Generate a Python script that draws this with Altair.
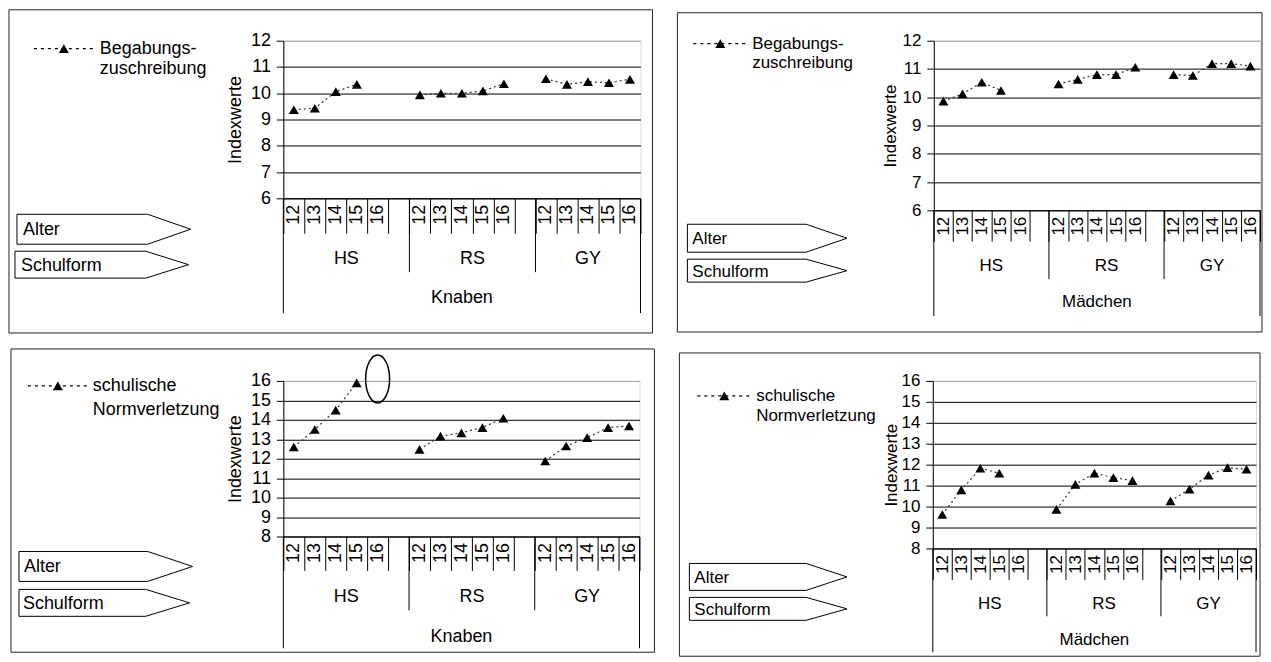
import altair as alt
import pandas as pd

# ---------------- data ----------------
groups = ["HS", "RS", "GY"]
ages = ["12", "13", "14", "15", "16"]

knaben_begabung = {
    "HS": [9.37, 9.43, 10.06, 10.34, None],
    "RS": [9.94, 10.00, 10.00, 10.09, 10.36],
    "GY": [10.55, 10.34, 10.44, 10.40, 10.53],
}
maedchen_begabung = {
    "HS": [9.86, 10.12, 10.53, 10.24, None],
    "RS": [10.47, 10.63, 10.80, 10.80, 11.06],
    "GY": [10.80, 10.77, 11.19, 11.19, 11.10],
}
knaben_norm = {
    "HS": [12.60, 13.50, 14.50, 15.90, None],
    "RS": [12.48, 13.16, 13.33, 13.60, 14.08],
    "GY": [11.88, 12.65, 13.08, 13.60, 13.68],
}
maedchen_norm = {
    "HS": [9.62, 10.80, 11.83, 11.59, None],
    "RS": [9.87, 11.06, 11.60, 11.38, 11.24],
    "GY": [10.27, 10.83, 11.50, 11.86, 11.78],
}

legend_begabung = ["Begabungs-", "zuschreibung"]
legend_norm = ["schulische", "Normverletzung"]
box_labels = ["Alter", "Schulform"]
y_title = "Indexwerte"
ellipse_mark = {"group": "HS", "age": "16", "value": 16.1}

FONT = "Liberation Sans"

# slot keys: 5 ages per school type plus an empty slot between types
KEYS = []
for i, g in enumerate(groups):
    KEYS += [f"{g}|{a}" for a in ages]
    if i < len(groups) - 1:
        KEYS.append(f"{g}|")

DUMMY = pd.DataFrame({"d": [0]})


def box_shape(x0, xr, xt, yt, yb):
    cx = (x0 + xt) / 2
    cy = (yt + yb) / 2
    hw = (xt - x0) / 2

    def u(v):
        return round(v / hw, 4)

    path = (f"M{u(x0 - cx)},{u(yt - cy)}L{u(xr - cx)},{u(yt - cy)}L{u(xt - cx)},0"
            f"L{u(xr - cx)},{u(yb - cy)}L{u(x0 - cx)},{u(yb - cy)}Z")
    return cx, cy, path, (2 * hw) ** 2


def make_panel(values, geo, legend_lines, sex, ydom, FS, ellipse=None):
    bx0, by0, bx1, by1 = geo["border"]
    px0, py0, px1, py1 = geo["plot"]
    W = px1 - px0
    H = py1 - py0

    def rx(x):
        return x - px0

    def ry(y):
        return y - py0

    rows = []
    for g in groups:
        for a, v in zip(ages, values[g]):
            if v is not None:
                rows.append({"key": f"{g}|{a}", "group": g, "value": v})
    df = pd.DataFrame(rows)

    y0, y1 = ydom
    xscale = alt.Scale(type="band", domain=KEYS, paddingInner=0, paddingOuter=0)
    yscale = alt.Scale(domain=[y0, y1], nice=False, zero=False)
    tick_len = geo["tick_end"] - py1
    xaxis = alt.Axis(
        title=None, tickBand="extent", tickSize=tick_len, tickColor="black",
        tickWidth=1, domainColor="black", domainWidth=1, labelAngle=270,
        labelAlign="right", labelBaseline="middle", labelPadding=6 - tick_len,
        labelExpr="split(datum.value, '|')[1]", labelFontSize=FS,
        labelColor="black", labelOverlap=False, grid=False, labelFont=FONT,
    )
    yaxis = alt.Axis(
        title=y_title, values=list(range(y0, y1 + 1)), tickSize=7, labelPadding=6,
        tickColor="black", domainColor="black", labelFontSize=FS, labelColor="black",
        labelFont=FONT, titleFont=FONT, titleFontSize=FS, titleFontWeight="normal",
        titleColor="black", titleAngle=270, titleX=rx(geo["ytitle_x"]), titleY=H / 2,
        titleAlign="center", titleBaseline="middle", grid=True, gridWidth=1,
        gridOpacity=1,
        gridColor={"condition": {"test": f"datum.value === {y1}", "value": "#a0a0a0"},
                   "value": "#000000"},
    )
    X = alt.X("key:N", scale=xscale, axis=xaxis)
    Y = alt.Y("value:Q", scale=yscale, axis=yaxis)

    layers = []
    # panel border
    layers.append(alt.Chart(DUMMY).mark_rect(fillOpacity=0, stroke="#222", strokeWidth=1).encode(
        x=alt.value(rx(bx0)), x2=alt.value(rx(bx1)), y=alt.value(ry(by0)), y2=alt.value(ry(by1))))

    # legend
    l0, l1, lt, ly = geo["legend"]
    layers.append(alt.Chart(DUMMY).mark_rule(color="black", strokeWidth=1.2, strokeDash=[3, 4]).encode(
        x=alt.value(rx(l0)), x2=alt.value(rx(l1)), y=alt.value(ry(ly))))
    layers.append(alt.Chart(DUMMY).mark_point(shape="triangle-up", filled=True, color="black",
                                             size=100, opacity=1).encode(
        x=alt.value(rx(lt)), y=alt.value(ry(ly))))
    tx, ty1, ty2 = geo["legend_text"]
    for txt, yy in zip(legend_lines, [ty1, ty2]):
        layers.append(alt.Chart(DUMMY).mark_text(text=txt, align="left", baseline="middle",
                                                fontSize=FS, font=FONT, color="black").encode(
            x=alt.value(rx(tx)), y=alt.value(ry(yy))))

    # Alter / Schulform arrow boxes
    for lab, (x0, xr, xt, yt, yb, txx) in zip(box_labels, geo["boxes"]):
        cx, cy, path, size = box_shape(x0, xr, xt, yt, yb)
        layers.append(alt.Chart(DUMMY).mark_point(shape=path, size=size, filled=True, fill="white",
                                                 stroke="black", strokeWidth=1, opacity=1).encode(
            x=alt.value(rx(cx)), y=alt.value(ry(cy))))
        layers.append(alt.Chart(DUMMY).mark_text(text=lab, align="left", baseline="middle",
                                                fontSize=FS, font=FONT, color="black").encode(
            x=alt.value(rx(txx)), y=alt.value(ry(cy + 1))))

    # series
    base = alt.Chart(df).encode(x=X, y=Y)
    layers.append(base.mark_line(color="#333", strokeWidth=1.2, strokeDash=[2, 3]).encode(
        detail="group:N"))
    layers.append(base.mark_point(shape="triangle-up", filled=True, color="black", size=100, opacity=1))

    if ellipse is not None:
        edf = pd.DataFrame({"key": [f"{ellipse['group']}|{ellipse['age']}"], "value": [ellipse["value"]]})
        layers.append(alt.Chart(edf).mark_point(
            shape="M-0.5,0A0.5,1,0,1,0,0.5,0A0.5,1,0,1,0,-0.5,0Z", size=2304,
            filled=False, stroke="black", strokeWidth=1.5, opacity=1).encode(x=X, y=Y))

    # category axis structure below the plot
    sep_df = pd.DataFrame({"key": [f"{g}|" for g in groups[:-1]]})
    layers.append(alt.Chart(sep_df).mark_rule(color="black", strokeWidth=1).encode(
        x=alt.X("key:N", scale=xscale, axis=xaxis, bandPosition=1),
        y=alt.value(H), y2=alt.value(ry(geo["sep_end"]))))
    layers.append(alt.Chart(pd.DataFrame({"key": [KEYS[0]]})).mark_rule(color="black", strokeWidth=1).encode(
        x=alt.X("key:N", scale=xscale, axis=xaxis, bandPosition=0),
        y=alt.value(H), y2=alt.value(ry(geo["ext_end"]))))
    layers.append(alt.Chart(pd.DataFrame({"key": [KEYS[-1]]})).mark_rule(color="black", strokeWidth=1).encode(
        x=alt.X("key:N", scale=xscale, axis=xaxis, bandPosition=1),
        y=alt.value(H), y2=alt.value(ry(geo["ext_end"]))))

    # group labels centred on each group's span
    whole, half = [], []
    idx = 0
    for i, g in enumerate(groups):
        n = len(ages) + (1 if i < len(groups) - 1 else 0)
        c = idx + n / 2
        if c == int(c):
            whole.append({"key": KEYS[int(c)], "label": g})
        else:
            half.append({"key": KEYS[int(c)], "label": g})
        idx += n
    for recs, bp in ((whole, 0), (half, 0.5)):
        if recs:
            layers.append(alt.Chart(pd.DataFrame(recs)).mark_text(
                fontSize=FS, font=FONT, color="black", align="center", baseline="middle").encode(
                x=alt.X("key:N", scale=xscale, axis=xaxis, bandPosition=bp),
                y=alt.value(ry(geo["group_y"])), text="label:N"))

    layers.append(alt.Chart(DUMMY).mark_text(text=sex, fontSize=FS, font=FONT, color="black",
                                            align="center", baseline="middle").encode(
        x=alt.value(W / 2), y=alt.value(ry(geo["sex_y"]))))

    return alt.layer(*layers).properties(width=W, height=H)


G1 = dict(border=(8, 8, 653, 332), plot=(283, 39, 641, 197), legend=(33, 92, 63, 47),
          legend_text=(99, 47, 67),
          boxes=[(16, 147, 190, 213, 243, 22), (14, 145, 188, 250, 277, 20)],
          ytitle_x=235, tick_end=232, sep_end=271, ext_end=312, group_y=258, sex_y=297)
G2 = dict(border=(676, 8, 1262, 328), plot=(933, 36, 1260, 206), legend=(692, 747, 719, 39),
          legend_text=(751, 39, 58),
          boxes=[(686, 805, 846, 220, 248, 691), (686, 805, 846, 255, 278, 691)],
          ytitle_x=890, tick_end=237, sep_end=275, ext_end=312, group_y=262, sex_y=298)
G3 = dict(border=(8, 346, 653, 650), plot=(281, 378, 638, 534), legend=(25, 84, 55, 383),
          legend_text=(90, 383, 407),
          boxes=[(16, 145, 190, 549, 579, 21), (16, 143, 187, 587, 614, 20)],
          ytitle_x=233, tick_end=568, sep_end=608, ext_end=646, group_y=595, sex_y=635)
G4 = dict(border=(676, 346, 1258, 650), plot=(930, 374, 1254, 542), legend=(694, 747, 721, 389),
          legend_text=(753, 389, 409),
          boxes=[(686, 803, 844, 557, 584, 691), (686, 803, 844, 591, 614, 691)],
          ytitle_x=889, tick_end=573, sep_end=610, ext_end=646, group_y=598, sex_y=634)

p1 = make_panel(knaben_begabung, G1, legend_begabung, "Knaben", (6, 12), 18)
p2 = make_panel(maedchen_begabung, G2, legend_begabung, "Mädchen", (6, 12), 17)
p3 = make_panel(knaben_norm, G3, legend_norm, "Knaben", (8, 16), 18, ellipse=ellipse_mark)
p4 = make_panel(maedchen_norm, G4, legend_norm, "Mädchen", (8, 16), 17)

top = alt.hconcat(p1, p2, spacing=G2["border"][0] - G1["border"][2])
bottom = alt.hconcat(p3, p4, spacing=G4["border"][0] - G3["border"][2])
chart = alt.vconcat(top, bottom, spacing=G3["border"][1] - G1["border"][3]).properties(
    padding=0
).configure_view(stroke="#a0a0a0", strokeWidth=1).configure(font=FONT)

chart.save("out.html", embed_options={"renderer": "svg", "actions": False})
